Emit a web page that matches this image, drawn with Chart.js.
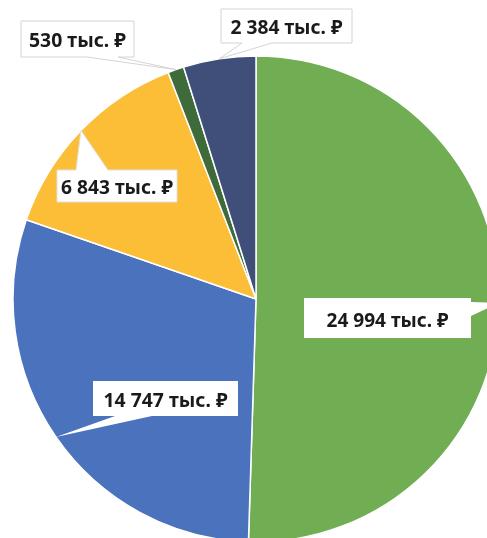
<!DOCTYPE html>
<html>
<head>
<meta charset="utf-8">
<script src="https://cdn.jsdelivr.net/npm/chart.js@4.4.1/dist/chart.umd.min.js"></script>
<style>
  html, body { margin: 0; padding: 0; background: #ffffff; overflow: hidden; }
  #wrap { position: absolute; left: 0; top: 0; width: 487px; height: 538px; }
</style>
</head>
<body>
<div id="wrap"><canvas id="c" width="487" height="538"></canvas></div>
<script>
// ---- data ----
const categories = ["Категория 1", "Категория 2", "Категория 3", "Категория 4", "Категория 5"];
const values = [24994, 14747, 6843, 530, 2384];
const valueLabels = ["24 994 тыс. ₽", "14 747 тыс. ₽", "6 843 тыс. ₽", "530 тыс. ₽", "2 384 тыс. ₽"];
const colors = ["#71AD52", "#4A72BD", "#FBBE36", "#3F6A3A", "#3F4F7A"];

// ---- callout layout (box x, y, w, h; pointer side; pointer base start/end; text baseline offset; text width) ----
const calloutLayout = [
  { box: [304, 298, 167, 40], side: "right",  base: [302, 316], baseline: 29, textW: 122, border: null },
  { box: [93, 381, 145, 35],  side: "bottom", base: [115, 152], baseline: 26, textW: 124, border: null },
  { box: [57, 170, 120, 32],  side: "top",    base: [76, 108],  baseline: 24, textW: 112, border: "#e0e0e0" },
  { box: [21, 21, 113, 36],   side: "bottom", base: [87, 118],  baseline: 26, textW: 97,  border: "#d4d4d4" },
  { box: [221, 9, 131, 34],   side: "bottom", base: [242, 272], baseline: 25, textW: 112, border: "#d4d4d4" }
];

const calloutPlugin = {
  id: "callouts",
  afterDatasetsDraw(chart) {
    const ctx = chart.ctx;
    const meta = chart.getDatasetMeta(0);
    meta.data.forEach((arc, i) => {
      const L = calloutLayout[i];
      const p = arc.getProps(["x", "y", "startAngle", "endAngle", "outerRadius"], true);
      const mid = (p.startAngle + p.endAngle) / 2;
      const tx = p.x + Math.cos(mid) * p.outerRadius;
      const ty = p.y + Math.sin(mid) * p.outerRadius;
      const [x, y, w, h] = L.box;
      ctx.save();
      ctx.beginPath();
      ctx.moveTo(x, y);
      if (L.side === "top") { ctx.lineTo(L.base[0], y); ctx.lineTo(tx, ty); ctx.lineTo(L.base[1], y); }
      ctx.lineTo(x + w, y);
      if (L.side === "right") { ctx.lineTo(x + w, L.base[0]); ctx.lineTo(tx, ty); ctx.lineTo(x + w, L.base[1]); }
      ctx.lineTo(x + w, y + h);
      if (L.side === "bottom") { ctx.lineTo(L.base[1], y + h); ctx.lineTo(tx, ty); ctx.lineTo(L.base[0], y + h); }
      ctx.lineTo(x, y + h);
      ctx.closePath();
      ctx.fillStyle = "#ffffff";
      ctx.fill();
      if (L.border) {
        ctx.lineWidth = 1;
        ctx.strokeStyle = L.border;
        ctx.stroke();
      }
      ctx.fillStyle = "#1a1a1a";
      ctx.font = "bold 20px 'Noto Sans', 'Open Sans', 'DejaVu Sans', sans-serif";
      ctx.textAlign = "center";
      ctx.textBaseline = "alphabetic";
      ctx.fillText(valueLabels[i], x + w / 2, y + L.baseline, L.textW);
      ctx.restore();
    });
  }
};

new Chart(document.getElementById("c"), {
  type: "pie",
  data: {
    labels: categories,
    datasets: [{
      data: values,
      backgroundColor: colors,
      borderColor: "#ffffff",
      borderWidth: 1.5,
      clip: false
    }]
  },
  options: {
    responsive: false,
    animation: false,
    radius: 243,
    layout: { padding: { left: 25, top: 60, right: 0, bottom: 0 } },
    plugins: {
      legend: { display: false },
      tooltip: { enabled: false }
    }
  },
  plugins: [calloutPlugin]
});
</script>
</body>
</html>
